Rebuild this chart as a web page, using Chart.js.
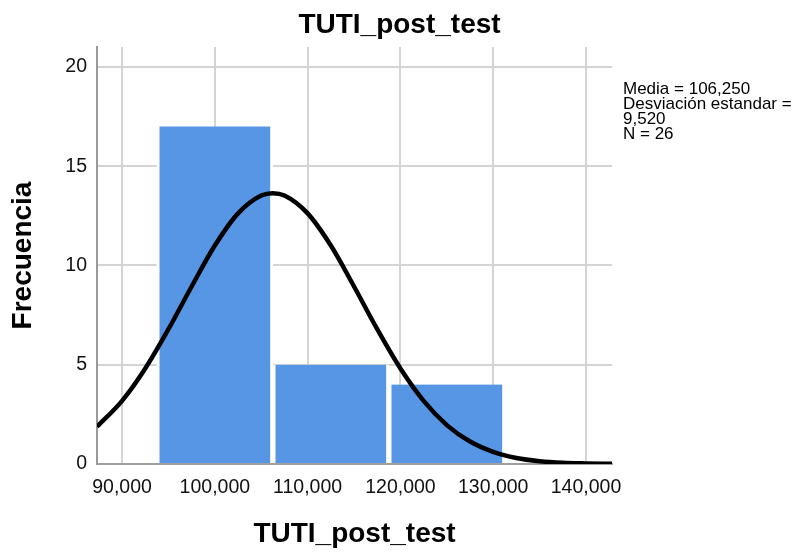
<!DOCTYPE html>
<html><head><meta charset="utf-8">
<script src="https://cdn.jsdelivr.net/npm/chart.js@4/dist/chart.umd.min.js"></script>
<style>html,body{margin:0;padding:0;background:#fff;overflow:hidden}</style>
</head><body>
<canvas id="c" width="799" height="554" style="display:block;width:799px;height:554px"></canvas>
<script>
const chartTitle = 'TUTI_post_test';
const xAxisTitle = 'TUTI_post_test';
const yAxisTitle = 'Frecuencia';
const binCenters = [100000, 112500, 125000];
const binCounts = [17, 5, 4];
const curveX = [87300, 90000, 92500, 95000, 97500, 100000, 102500, 105000, 106250, 107500, 110000, 112500, 115000, 117500, 120000, 122500, 125000, 127500, 130000, 132500, 135000, 137500, 140000, 142800];
const curveY = [1.88, 3.18, 4.81, 6.79, 8.94, 11.0, 12.62, 13.52, 13.64, 13.52, 12.62, 11.0, 8.94, 6.79, 4.81, 3.18, 1.96, 1.13, 0.61, 0.30, 0.14, 0.06, 0.03, 0.01];
const xTickValues = [90000, 100000, 110000, 120000, 130000, 140000];
const xTickLabels = ['90,000', '100,000', '110,000', '120,000', '130,000', '140,000'];
const yTickValues = [0, 5, 10, 15, 20];
const yTickLabels = ['0', '5', '10', '15', '20'];
const statsLines = ['Media = 106,250', 'Desviación estandar =', '9,520', 'N = 26'];

const FAMILY = '"Liberation Sans", Arial, sans-serif';
Chart.defaults.font.family = FAMILY;

const statsPlugin = {
  id: 'stats',
  afterDraw(chart) {
    const ctx = chart.ctx;
    ctx.save();
    ctx.font = '17px ' + FAMILY;
    ctx.fillStyle = '#000';
    ctx.textAlign = 'left';
    ctx.textBaseline = 'alphabetic';
    statsLines.forEach((t, i) => ctx.fillText(t, 623, 94 + i * 15));
    ctx.restore();
  }
};

new Chart(document.getElementById('c'), {
  type: 'bar',
  data: {
    datasets: [
      {
        type: 'line',
        data: curveX.map((x, i) => ({x: x, y: curveY[i]})),
        borderColor: '#000',
        borderWidth: 4.5,
        pointRadius: 0,
        cubicInterpolationMode: 'monotone',
        fill: false,
        order: 0,
        xAxisID: 'x', yAxisID: 'y'
      },
      {
        type: 'bar',
        data: binCenters.map((x, i) => ({x: x, y: binCounts[i]})),
        backgroundColor: 'rgb(86,150,229)',
        borderColor: '#fff',
        borderWidth: {left: 3, right: 3, top: 0, bottom: 0},
        borderSkipped: false,
        barThickness: 'flex',
        barPercentage: 1,
        categoryPercentage: 1,
        order: 1,
        xAxisID: 'x', yAxisID: 'y'
      }
    ]
  },
  options: {
    responsive: false,
    animation: false,
    devicePixelRatio: 1,
    layout: {padding: 0},
    plugins: {
      legend: {display: false},
      tooltip: {enabled: false},
      title: {
        display: true, text: chartTitle, color: '#000',
        font: {size: 28, weight: 'bold', family: FAMILY},
        padding: {top: 8, bottom: 5.4}
      }
    },
    scales: {
      x: {
        type: 'linear', position: 'bottom', min: 87300, max: 142800, offset: false,
        afterBuildTicks: s => { s.ticks = xTickValues.map(v => ({value: v})); },
        ticks: {
          callback: (v) => xTickLabels[xTickValues.indexOf(v)],
          font: {size: 19.5}, color: '#111', padding: 12, maxRotation: 0, autoSkip: false
        },
        grid: {color: '#d4d4d4', lineWidth: 2, drawTicks: false, offset: false},
        border: {color: '#a0a0a0', width: 2},
        title: {display: true, text: xAxisTitle, color: '#000', font: {size: 28, weight: 'bold'}, padding: {top: 0, bottom: 3}},
        afterFit: s => { s.height = 90; }
      },
      y: {
        type: 'linear', position: 'left', min: 0, max: 21,
        afterBuildTicks: s => { s.ticks = yTickValues.map(v => ({value: v})); },
        ticks: {
          callback: (v) => yTickLabels[yTickValues.indexOf(v)],
          font: {size: 19.5}, color: '#111', padding: 10
        },
        grid: {color: '#d4d4d4', lineWidth: 2, drawTicks: false},
        border: {color: '#999999', width: 2},
        title: {display: true, text: yAxisTitle, color: '#000', font: {size: 28, weight: 'bold'}, padding: {top: 6, bottom: 0}},
        afterFit: s => { s.width = 97; }
      },
      yR: {
        type: 'linear', position: 'right', display: true,
        grid: {display: false}, border: {display: false}, ticks: {display: false},
        afterFit: s => { s.width = 187; }
      }
    }
  },
  plugins: [statsPlugin]
});
</script>
</body></html>
